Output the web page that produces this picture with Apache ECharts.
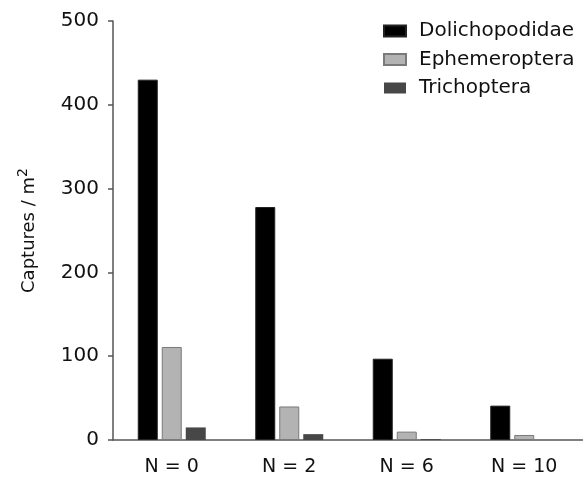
<!DOCTYPE html>
<html><head><meta charset="utf-8">
<script src="https://cdn.jsdelivr.net/npm/echarts@6/dist/echarts.min.js"></script>
<style>html,body{margin:0;padding:0;background:#fff}#c{width:583px;height:477px}</style>
</head><body><div id="c"></div>
<script>
const categories = ['N = 0', 'N = 2', 'N = 6', 'N = 10'];
const dolichopodidae = [430, 278, 97, 41];
const ephemeroptera = [111, 40, 10, 6];
const trichoptera = [15, 7, 1, 0];
const yTicks = [0, 100, 200, 300, 400, 500];

const chart = echarts.init(document.getElementById('c'), null, {renderer: 'canvas'});
const font = 'DejaVu Sans';
chart.setOption({
  animation: false,
  backgroundColor: '#fff',
  grid: {left: 113, top: 21, width: 472, height: 419},
  legend: {
    orient: 'vertical', left: 378, top: 16,
    itemWidth: 22, itemHeight: 11, itemGap: 8.5,
    icon: 'rect',
    textStyle: {fontFamily: font, fontSize: 20, color: '#111', padding: [0, 0, 0, 8]},
    data: ['Dolichopodidae', 'Ephemeroptera', 'Trichoptera']
  },
  xAxis: {
    type: 'category', data: categories,
    axisLine: {lineStyle: {color: '#555', width: 1.5}},
    axisTick: {alignWithLabel: true, length: 5, lineStyle: {color: '#555', width: 1.5}},
    axisLabel: {fontFamily: font, fontSize: 19, color: '#111', margin: 18}
  },
  yAxis: {
    type: 'value', min: 0, max: 500, interval: 100,
    name: 'Captures / m{sup|2}',
    nameLocation: 'middle', nameGap: 71, nameRotate: 90,
    nameTextStyle: {fontFamily: font, fontSize: 18, color: '#111',
      rich: {sup: {fontFamily: font, fontSize: 14, color: '#111', verticalAlign: 'top', padding: [0, 0, 12, 0]}}},
    splitLine: {show: false},
    axisLine: {show: true, lineStyle: {color: '#555', width: 1.5}},
    axisTick: {show: true, length: 5, lineStyle: {color: '#555', width: 1.5}},
    axisLabel: {fontFamily: font, fontSize: 20, color: '#111', margin: 14,
      formatter: v => yTicks.includes(v) ? String(v) : ''}
  },
  series: [
    {name: 'Dolichopodidae', type: 'bar', data: dolichopodidae, barWidth: 20, barGap: '20%',
     itemStyle: {color: '#000', borderColor: '#222', borderWidth: 1}},
    {name: 'Ephemeroptera', type: 'bar', data: ephemeroptera, barWidth: 20, barGap: '20%',
     itemStyle: {color: '#b3b3b3', borderColor: '#7a7a7a', borderWidth: 1}},
    {name: 'Trichoptera', type: 'bar', data: trichoptera, barWidth: 20, barGap: '20%',
     itemStyle: {color: '#474747', borderWidth: 0}}
  ]
});
</script></body></html>
